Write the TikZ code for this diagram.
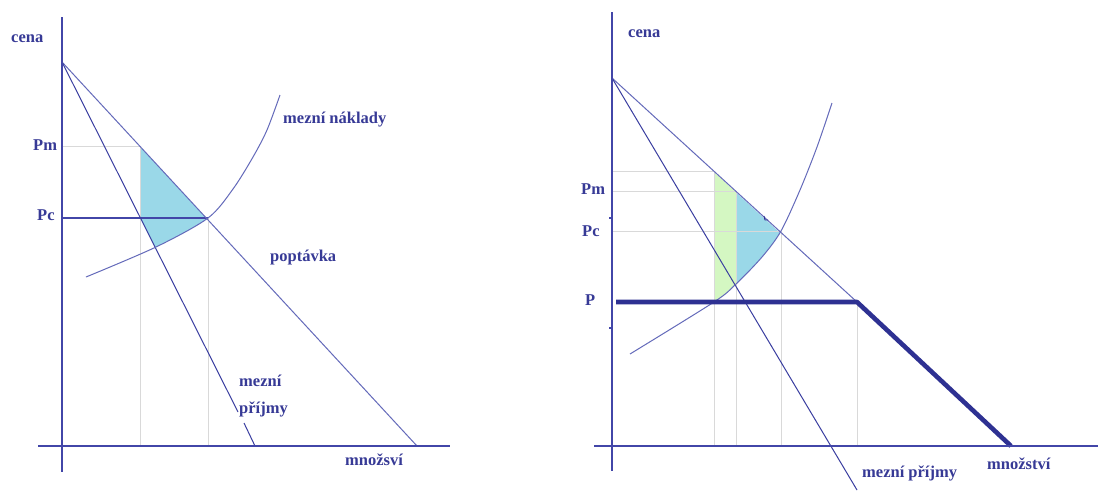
\documentclass[tikz,border=0pt]{standalone}
\usepackage{fontspec}
\setmainfont{Liberation Serif}
\definecolor{txtc}{RGB}{55,58,150}
\definecolor{axisc}{RGB}{66,70,168}
\definecolor{linec}{RGB}{100,106,186}
\definecolor{mrc}{RGB}{58,62,160}
\definecolor{guidec}{RGB}{217,217,217}
\definecolor{bluef}{RGB}{154,216,232}
\definecolor{greenf}{RGB}{212,247,194}
\definecolor{navyc}{RGB}{46,49,146}
\tikzset{
  lbl/.style={font=\fontsize{16.5}{19}\selectfont\bfseries, text=txtc, inner sep=0pt, anchor=base west},
  axisline/.style={draw=axisc, line width=1.3pt},
  thinline/.style={draw=linec, line width=1pt},
  mrline/.style={draw=mrc, line width=1pt},
  guideline/.style={draw=guidec, line width=1pt},
  pcline/.style={draw=axisc, line width=1.4pt},
  boldline/.style={draw=navyc, line width=4.6pt, line join=round},
}
\begin{document}
\begin{tikzpicture}[x=1pt,y=-1pt]
\useasboundingbox[fill=white] (0,0) rectangle (1098,491);

% ================= LEFT PANEL =================
\coordinate (LD0) at (62,62);
\coordinate (LD1) at (417,446);
\coordinate (LM1) at (238,412);
\coordinate (LM2) at (244,423);
\coordinate (LM3) at (255,446);
\coordinate (LPm) at (140,146.5);
\coordinate (LPmY) at (62,146.5);
\coordinate (LPcX) at (208,218);
\coordinate (LPcY) at (62,218);
\coordinate (LQm) at (140,446);
\coordinate (LQc) at (208,446);

% welfare loss area
\begin{scope}
  \clip (LPm) -- (LD1) -- (LM3) -- (140,217) -- cycle;
  \fill[bluef] plot[smooth] coordinates {(86,277) (156,247) (208,218) (233,189) (253,157) (267,130) (280,95)}
      -- (280,0) -- (0,0) -- (0,277) -- cycle;
\end{scope}

% guides
\draw[guideline] (LPmY) -- (LPm) -- (LQm);
\draw[guideline] (LPcX) -- (LQc);
\draw[pcline] (LPcY) -- (LPcX);

% curves
\draw[thinline] (LD0) -- (LD1);
\draw[mrline] (LD0) -- (LM1);
\draw[mrline] (LM2) -- (LM3);
\draw[thinline] plot[smooth] coordinates {(86,277) (156,247) (208,218) (233,189) (253,157) (267,130) (280,95)};

% axes
\draw[axisline] (62,17) -- (62,472);
\draw[axisline] (38,446) -- (450,446);

% labels
\node[lbl] (lcena) at (11,42) {cena};
\node[lbl] (lpm) at (33,150) {Pm};
\node[lbl] (lpc) at (37,220) {Pc};
\node[lbl] (lmc) at (283,123) {mezní náklady};
\node[lbl] (ldem) at (270,261) {poptávka};
\node[lbl] (lmr1) at (239,386) {mezní};
\node[lbl] (lmr2) at (239,413) {příjmy};
\node[lbl] (lq) at (345,465) {množsví};

% ================= RIGHT PANEL =================
\coordinate (RD0) at (612,78);
\coordinate (RK) at (857,302);
\coordinate (RD1) at (1011,446);
\coordinate (RM1) at (857,490);
\coordinate (RP0) at (616,302);

% fills (green and blue)
\begin{scope}
  \clip (RD0) -- (RD1) -- (612,446) -- cycle;
  \clip plot[smooth] coordinates {(630,354) (714,302) (736,284) (762,257) (781,231) (800,190) (817,147) (832,103)}
      -- (832,0) -- (600,0) -- (600,354) -- cycle;
  \fill[greenf] (714,0) rectangle (736,460);
  \fill[bluef] (736,0) rectangle (781,460);
\end{scope}

% guides
\draw[guideline] (612,171) -- (714,171) -- (714,446);
\draw[guideline] (612,191) -- (736,191) -- (736,446);
\draw[guideline] (612,231) -- (781,231) -- (781,446);
\draw[guideline] (RK) -- (857,446);

% curves
\draw[thinline] (RD0) -- (RK);
\draw[mrline] (RD0) -- (RM1);
\draw[thinline] plot[smooth] coordinates {(630,354) (714,302) (736,284) (762,257) (781,231) (800,190) (817,147) (832,103)};
\draw[draw=navyc, line width=0.9pt] (764,216) -- (765,220) -- (768,220);

% kinked demand
\draw[boldline] (RP0) -- (RK) -- (RD1);

% axes
\draw[axisline] (612,12) -- (612,471);
\draw[axisline] (594,446) -- (1098,446);
\draw[axisline] (609,218) -- (612,218);
\draw[axisline] (609,328) -- (612,328);

% labels
\node[lbl] (rcena) at (628,37) {cena};
\node[lbl] (rpm) at (581,194) {Pm};
\node[lbl] (rpc) at (582,236) {Pc};
\node[lbl] (rp) at (585,305) {P};
\node[lbl] (rmr) at (862,477) {mezní příjmy};
\node[lbl] (rq) at (987,469) {množství};
\end{tikzpicture}
\end{document}
